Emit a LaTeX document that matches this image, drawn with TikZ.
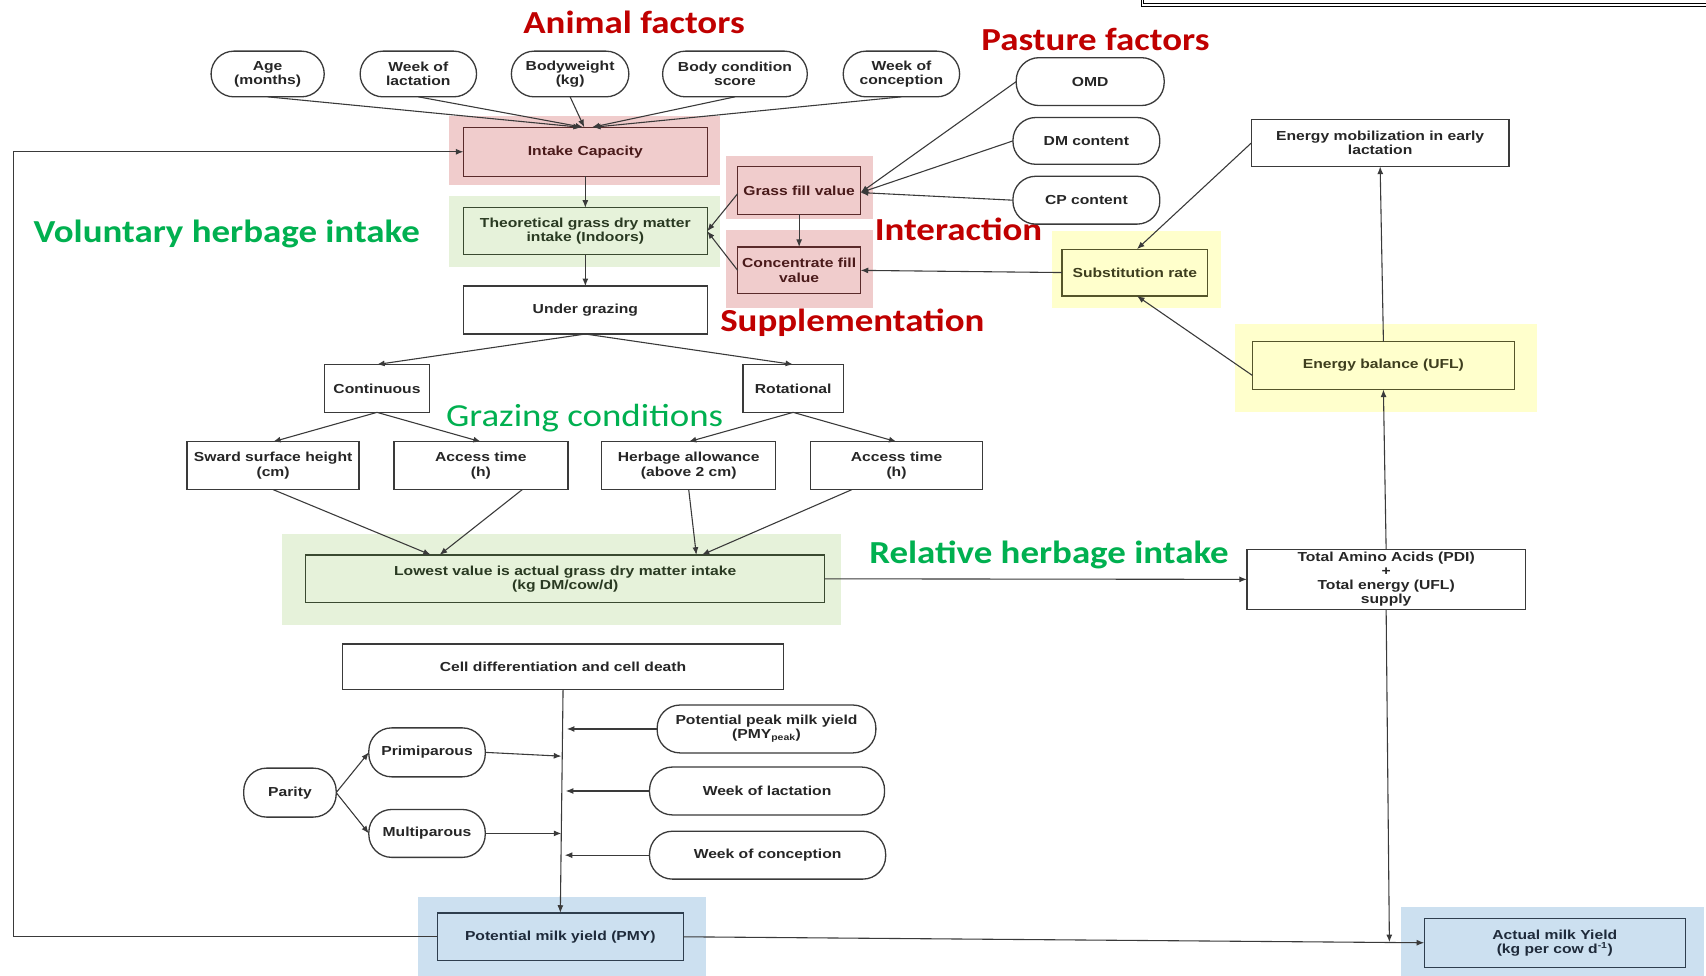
\documentclass[tikz,border=0pt]{standalone}
\usepackage{fontspec}
\setmainfont{Liberation Sans}
\newfontfamily\nodefont{Liberation Sans}[FakeStretch=1.2]
\newfontfamily\headfont{Carlito}[FakeStretch=1.15]
\usetikzlibrary{arrows.meta}
\definecolor{lc}{HTML}{3A3A3A}
\definecolor{tc}{HTML}{262626}
\definecolor{hred}{HTML}{C00000}
\definecolor{hgreen}{HTML}{00B050}
\definecolor{bgpink}{HTML}{F0CCCC}
\definecolor{bggreen}{HTML}{E6F2DA}
\definecolor{bgyellow}{HTML}{FFFFCC}
\definecolor{bgblue}{HTML}{CCE0F0}
\definecolor{lpink}{HTML}{5A2A2A}
\definecolor{tpink}{HTML}{4A1A1A}
\definecolor{lgreen}{HTML}{3A4A30}
\definecolor{tgreen}{HTML}{2A3A22}
\definecolor{lyellow}{HTML}{55552A}
\definecolor{tyellow}{HTML}{3E3E1E}
\definecolor{lblue}{HTML}{2E3E4E}
\definecolor{tblue}{HTML}{1E2A3A}
\tikzset{
  ln/.style={draw=lc, line width=1pt},
  arr/.style={ln, -{Latex[length=7pt,width=5.5pt]}},
  bx/.style={draw=lc, line width=1.2pt, inner sep=0pt, outer sep=0pt, align=center,
    text=tc, font={\nodefont\bfseries\fontsize{12}{13}\selectfont}},
  ov/.style={bx, rounded corners=21pt},
  pinkbx/.style={draw=lpink, text=tpink},
  greenbx/.style={draw=lgreen, text=tgreen},
  yellowbx/.style={draw=lyellow, text=tyellow},
  bluebx/.style={draw=lblue, text=tblue},
  bgrect/.style={draw=none, fill=#1},
  head/.style={anchor=base west, inner sep=0pt, outer sep=0pt,
    font={\headfont\bfseries\fontsize{29.5}{32}\selectfont}},
  headthin/.style={anchor=base west, inner sep=0pt, outer sep=0pt,
    font={\headfont\fontsize{29.5}{32}\selectfont}},
}
\begin{document}
\begin{tikzpicture}[x=1pt,y=-1pt]
\useasboundingbox[fill=white] (0,0) rectangle (1568,897);

% background highlights
\fill[bgrect=bgpink] (413,107) rectangle (662,170);
\fill[bgrect=bggreen] (413,180) rectangle (662,245);
\fill[bgrect=bgpink] (667,143) rectangle (802,201);
\fill[bgrect=bgpink] (667,211) rectangle (802,283);
\fill[bgrect=bgyellow] (967,212) rectangle (1122,283);
\fill[bgrect=bgyellow] (1135,298) rectangle (1413,379);
\fill[bgrect=bggreen] (259,491) rectangle (773,574);
\fill[bgrect=bgblue] (384,824) rectangle (649,897);
\fill[bgrect=bgblue] (1288,834) rectangle (1566,897);

% frame fragment top right
\begin{scope}
\clip (0,0) rectangle (1568,897);
\draw[double=white, double distance=1.6pt, line width=0.9pt, draw=black] (1050,-20) -- (1050,4.5) -- (1640,4.5);
\end{scope}

% headings
\node[head, text=hred] (hAnimal) at (481,30.6) {Animal factors};
\node[head, text=hred] (hPasture) at (902,46) {Pasture factors};
\node[head, text=hgreen] (hVol) at (31,223) {Voluntary herbage intake};
\node[head, text=hred] (hInter) at (804,220.6) {Interaction};
\node[head, text=hred] (hSupp) at (662,305) {Supplementation};
\node[headthin, text=hgreen] (hGraz) at (410,392) {Grazing conditions};
\node[head, text=hgreen] (hRel) at (799,517.6) {Relative herbage intake};

% animal factor ovals
\node[ov, minimum width=104pt, minimum height=42pt] (age) at (246,68) {Age\\(months)};
\node[ov, minimum width=107pt, minimum height=42pt] (wl) at (384.5,68) {Week of\\lactation};
\node[ov, minimum width=108pt, minimum height=42pt] (bw) at (524,68) {Bodyweight\\(kg)};
\node[ov, minimum width=133pt, minimum height=42pt] (bcs) at (675.5,68) {Body condition\\score};
\node[ov, minimum width=107pt, minimum height=42pt] (wc) at (828.5,68) {Week of\\conception};

% pasture ovals
\node[ov, minimum width=136pt, minimum height=44pt] (omd) at (1002,75) {OMD};
\node[ov, minimum width=135pt, minimum height=43pt] (dm) at (998.5,129.5) {DM content};
\node[ov, minimum width=135pt, minimum height=44pt] (cp) at (998.5,184) {CP content};

% boxes
\node[bx, pinkbx, minimum width=224pt, minimum height=45pt] (ic) at (538,139.5) {Intake Capacity};
\node[bx, greenbx, minimum width=224pt, minimum height=43pt] (tg) at (538,212.5) {Theoretical grass dry matter\\intake (Indoors)};
\node[bx, minimum width=224pt, minimum height=44pt] (ug) at (538,285) {Under grazing};
\node[bx, pinkbx, minimum width=113pt, minimum height=44pt] (gf) at (734.5,175) {Grass fill value};
\node[bx, pinkbx, minimum width=113pt, minimum height=43pt] (cf) at (734.5,248.5) {Concentrate fill\\value};
\node[bx, yellowbx, minimum width=134pt, minimum height=43pt] (sr) at (1043,250.5) {Substitution rate};
\node[bx, minimum width=237pt, minimum height=43pt] (em) at (1268.5,131.5) {Energy mobilization in early\\lactation};
\node[bx, yellowbx, minimum width=241pt, minimum height=44pt] (eb) at (1271.5,336) {Energy balance (UFL)};
\node[bx, minimum width=97pt, minimum height=44pt] (cont) at (346.5,357) {Continuous};
\node[bx, minimum width=92pt, minimum height=44pt] (rot) at (729,357) {Rotational};
\node[bx, minimum width=158pt, minimum height=44pt] (ssh) at (251,428) {Sward surface height\\(cm)};
\node[bx, minimum width=160pt, minimum height=44pt] (at1) at (442,428) {Access time\\(h)};
\node[bx, minimum width=160pt, minimum height=44pt] (ha) at (633,428) {Herbage allowance\\(above 2 cm)};
\node[bx, minimum width=158pt, minimum height=44pt] (at2) at (824,428) {Access time\\(h)};
\node[bx, greenbx, minimum width=477pt, minimum height=44pt] (low) at (519.5,532) {Lowest value is actual grass dry matter intake\\(kg DM/cow/d)};
\node[bx, minimum width=256pt, minimum height=55pt] (taa) at (1274,532.5) {Total Amino Acids (PDI)\\+\\Total energy (UFL)\\supply};
\node[bx, minimum width=405pt, minimum height=42pt] (cell) at (517.5,613) {Cell differentiation and cell death};
\node[bx, bluebx, minimum width=226pt, minimum height=44pt] (pmy) at (515,861) {Potential milk yield (PMY)};
\node[bx, bluebx, minimum width=240pt, minimum height=45pt] (amy) at (1429,866.5) {Actual milk Yield\\(kg per cow d\textsuperscript{-1})};

% bottom ovals
\node[ov, minimum width=201pt, minimum height=44pt] (ppm) at (704.5,670) {Potential peak milk yield\\(PMY\textsubscript{peak})};
\node[ov, minimum width=216pt, minimum height=44pt] (wl2) at (705,727) {Week of lactation};
\node[ov, minimum width=217pt, minimum height=44pt] (wc2) at (705.5,786) {Week of conception};
\node[ov, minimum width=85pt, minimum height=45pt] (par) at (266.5,728.5) {Parity};
\node[ov, minimum width=107pt, minimum height=45pt] (pri) at (392.5,691.5) {Primiparous};
\node[ov, minimum width=107pt, minimum height=44pt] (mul) at (392.5,766) {Multiparous};

% coordinates on the PMY trunk and others
\coordinate (vk) at (521,670);
\coordinate (vp) at (516,695);
\coordinate (vl) at (520,727);
\coordinate (vm) at (516,766);
\coordinate (vc) at (519,786);
\coordinate (jt) at (1277,866);
\coordinate (loop) at (12.5,0);

% animal factors -> intake capacity
\draw[arr] (age.south) -- ([xshift=-4pt]ic.north);
\draw[arr] (wl.south) -- ([xshift=-2pt]ic.north);
\draw[arr] (bw.south) -- ([xshift=-1pt]ic.north);
\draw[arr] (bcs.south) -- ([xshift=6pt]ic.north);
\draw[arr] (wc.south) -- ([xshift=7pt]ic.north);

% pasture factors -> grass fill
\draw[arr] (omd.west) -- ([yshift=-2pt]gf.east);
\draw[arr] (dm.west) -- ([yshift=-2pt]gf.east);
\draw[arr] (cp.west) -- ([yshift=-2pt]gf.east);

% main chain
\draw[arr] (ic.south) -- (tg.north);
\draw[arr] (tg.south) -- (ug.north);
\draw[arr] ([yshift=-3pt]gf.west) -- (tg.east);
\draw[arr] (cf.west) -- (tg.east);
\draw[arr] (gf.south) -- (cf.north);
\draw[arr] (sr.west) -- (cf.east);
\draw[arr] (em.west) -- ([xshift=2pt]sr.north);
\draw[arr] ([yshift=-9pt]eb.west) -- ([xshift=2pt]sr.south);
\draw[arr] (eb.north) -- (em.south);
\draw[arr] (taa.north) -- (eb.south);

% grazing tree
\draw[arr] (ug.south) -- (cont.north);
\draw[arr] (ug.south) -- (rot.north);
\draw[arr] (cont.south) -- (ssh.north);
\draw[arr] (cont.south) -- (at1.north);
\draw[arr] (rot.south) -- (ha.north);
\draw[arr] (rot.south) -- (at2.north);
\draw[arr] (ssh.south) -- ([xshift=-123.5pt]low.north);
\draw[arr] ([xshift=38pt]at1.south) -- ([xshift=-115.5pt]low.north);
\draw[arr] (ha.south) -- ([xshift=120.5pt]low.north);
\draw[arr] ([xshift=-41pt]at2.south) -- ([xshift=125.5pt]low.north);
\draw[arr] (low.east) -- (taa.west);

% milk yield part
\draw[arr] (cell.south) -- (pmy.north);
\draw[arr] (ppm.west) -- (vk);
\draw[arr] (wl2.west) -- (vl);
\draw[arr] (wc2.west) -- (vc);
\draw[arr] (pri.east) -- (vp);
\draw[arr] (mul.east) -- (vm);
\draw[arr] (par.east) -- (pri.west);
\draw[arr] (par.east) -- (mul.west);
\draw[arr] (pmy.east) -- (amy.west);
\draw[arr] (taa.south) -- (jt);
\draw[arr] (pmy.west) -| (loop |- ic.west) -- (ic.west);
\end{tikzpicture}
\end{document}
